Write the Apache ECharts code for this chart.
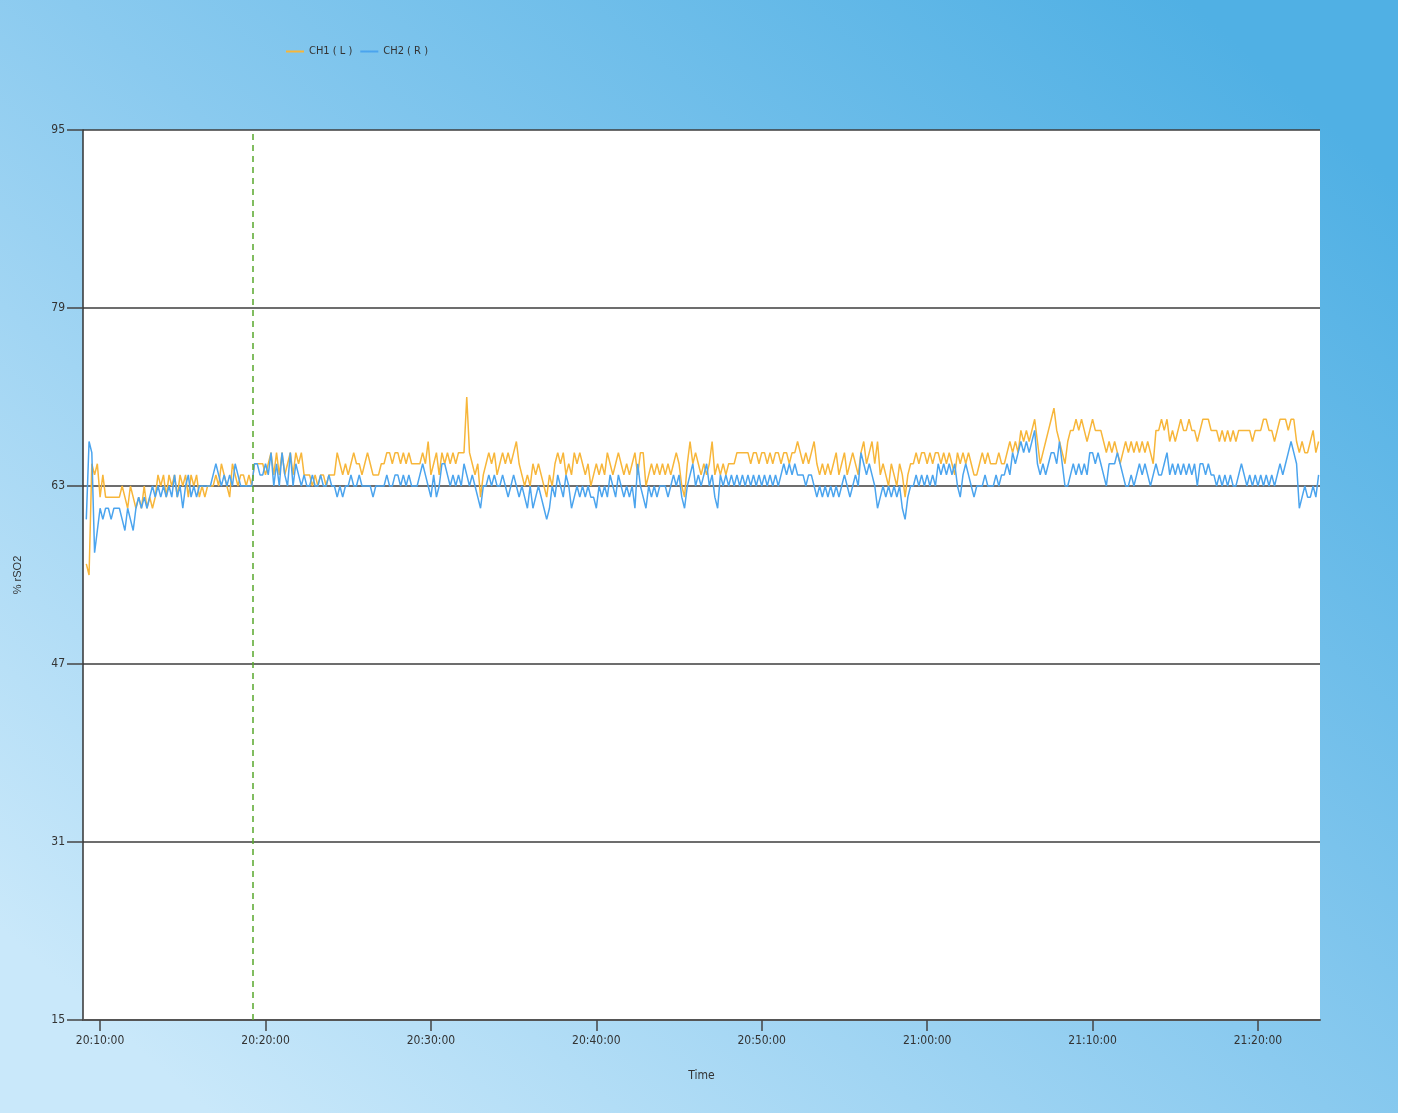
<!DOCTYPE html>
<html>
<head>
<meta charset="utf-8">
<title>rSO2</title>
<script src="https://cdn.jsdelivr.net/npm/echarts@6/dist/echarts.min.js"></script>
<style>
  html, body { margin: 0; padding: 0; background: #fff; }
  #chart { width: 1398px; height: 1113px; }
</style>
</head>
<body>
<div id="chart"></div>
<script>
// sampling: one reading every 10 s, first one at 20:09:10
const startTime = '20:09:10'
const stepSeconds = 10
const axisStart = '20:08:58'
const axisEnd = '21:23:45'
const eventTime = '20:19:15'
const xTickLabels = ['20:10:00', '20:20:00', '20:30:00', '20:40:00', '20:50:00', '21:00:00', '21:10:00', '21:20:00']
const legendNames = ['CH1 ( L )', 'CH2 ( R )']
const yTicks = [15, 31, 47, 63, 79, 95]

// CH1 (L), one row = 5 minutes
const ch1Values = [
  56, 55, 65, 64, 65, 62, 64, 62, 62, 62, 62, 62, 62, 63, 62, 61, 63, 62, 61, 62, 61, 63, 61, 62, 61, 62, 64, 63, 64, 62,
  64, 63, 64, 62, 64, 63, 64, 62, 64, 63, 64, 62, 63, 62, 63, 63, 63, 64, 63, 65, 64, 63, 62, 65, 64, 63, 64, 64, 63, 64,
  63, 65, 65, 65, 65, 64, 65, 66, 64, 66, 64, 66, 64, 65, 66, 64, 66, 65, 66, 64, 64, 64, 63, 64, 63, 64, 64, 63, 64, 64,
  64, 66, 65, 64, 65, 64, 65, 66, 65, 65, 64, 65, 66, 65, 64, 64, 64, 65, 65, 66, 66, 65, 66, 66, 65, 66, 65, 66, 65, 65,
  65, 65, 66, 65, 67, 64, 65, 66, 64, 66, 65, 66, 65, 66, 65, 66, 66, 66, 71, 66, 65, 64, 65, 62, 64, 65, 66, 65, 66, 64,
  65, 66, 65, 66, 65, 66, 67, 65, 64, 63, 64, 63, 65, 64, 65, 64, 63, 62, 64, 63, 65, 66, 65, 66, 64, 65, 64, 66, 65, 66,
  65, 64, 65, 63, 64, 65, 64, 65, 64, 66, 65, 64, 65, 66, 65, 64, 65, 64, 65, 66, 64, 66, 66, 63, 64, 65, 64, 65, 64, 65,
  64, 65, 64, 65, 66, 65, 63, 62, 65, 67, 65, 66, 65, 64, 65, 64, 65, 67, 64, 65, 64, 65, 64, 65, 65, 65, 66, 66, 66, 66,
  66, 65, 66, 66, 65, 66, 66, 65, 66, 65, 66, 66, 65, 66, 66, 65, 66, 66, 67, 66, 65, 66, 65, 66, 67, 65, 64, 65, 64, 65,
  64, 65, 66, 64, 65, 66, 64, 65, 66, 65, 64, 66, 67, 65, 66, 67, 65, 67, 64, 65, 64, 63, 65, 64, 63, 65, 64, 62, 64, 65,
  65, 66, 65, 66, 66, 65, 66, 65, 66, 66, 65, 66, 65, 66, 65, 64, 66, 65, 66, 65, 66, 65, 64, 64, 65, 66, 65, 66, 65, 65,
  65, 66, 65, 65, 66, 67, 66, 67, 66, 68, 67, 68, 67, 68, 69, 67, 65, 66, 67, 68, 69, 70, 68, 67, 66, 65, 67, 68, 68, 69,
  68, 69, 68, 67, 68, 69, 68, 68, 68, 67, 66, 67, 66, 67, 66, 65, 66, 67, 66, 67, 66, 67, 66, 67, 66, 67, 66, 65, 68, 68,
  69, 68, 69, 67, 68, 67, 68, 69, 68, 68, 69, 68, 68, 67, 68, 69, 69, 69, 68, 68, 68, 67, 68, 67, 68, 67, 68, 67, 68, 68,
  68, 68, 68, 67, 68, 68, 68, 69, 69, 68, 68, 67, 68, 69, 69, 69, 68, 69, 69, 67, 66, 67, 66, 66, 67, 68, 66, 67
]

// CH2 (R)
const ch2Values = [
  60, 67, 66, 57, 59, 61, 60, 61, 61, 60, 61, 61, 61, 60, 59, 61, 60, 59, 61, 62, 61, 62, 61, 62, 63, 62, 63, 62, 63, 62,
  63, 62, 64, 62, 63, 61, 63, 64, 62, 63, 62, 63, 63, 63, 63, 63, 64, 65, 64, 63, 64, 63, 64, 63, 65, 64, 63, 63, 63, 63,
  63, 65, 65, 64, 64, 65, 64, 66, 63, 65, 63, 66, 64, 63, 66, 63, 65, 64, 63, 64, 63, 63, 64, 63, 63, 64, 63, 63, 64, 63,
  63, 62, 63, 62, 63, 63, 64, 63, 63, 64, 63, 63, 63, 63, 62, 63, 63, 63, 63, 64, 63, 63, 64, 64, 63, 64, 63, 64, 63, 63,
  63, 64, 65, 64, 63, 62, 64, 62, 63, 65, 65, 64, 63, 64, 63, 64, 63, 65, 64, 63, 64, 63, 62, 61, 63, 63, 64, 63, 64, 63,
  63, 64, 63, 62, 63, 64, 63, 62, 63, 62, 61, 63, 61, 62, 63, 62, 61, 60, 61, 63, 62, 64, 63, 62, 64, 63, 61, 62, 63, 62,
  63, 62, 63, 62, 62, 61, 63, 62, 63, 62, 64, 63, 62, 64, 63, 62, 63, 62, 63, 61, 65, 63, 62, 61, 63, 62, 63, 62, 63, 63,
  63, 62, 63, 64, 63, 64, 62, 61, 63, 64, 65, 63, 64, 63, 64, 65, 63, 64, 62, 61, 64, 63, 64, 63, 64, 63, 64, 63, 64, 63,
  64, 63, 64, 63, 64, 63, 64, 63, 64, 63, 64, 63, 64, 65, 64, 65, 64, 65, 64, 64, 64, 63, 64, 64, 63, 62, 63, 62, 63, 62,
  63, 62, 63, 62, 63, 64, 63, 62, 63, 64, 63, 66, 65, 64, 65, 64, 63, 61, 62, 63, 62, 63, 62, 63, 62, 63, 61, 60, 62, 63,
  63, 64, 63, 64, 63, 64, 63, 64, 63, 65, 64, 65, 64, 65, 64, 65, 63, 62, 64, 65, 64, 63, 62, 63, 63, 63, 64, 63, 63, 63,
  64, 63, 64, 64, 65, 64, 66, 65, 66, 67, 66, 67, 66, 67, 68, 65, 64, 65, 64, 65, 66, 66, 65, 67, 65, 63, 63, 64, 65, 64,
  65, 64, 65, 64, 66, 66, 65, 66, 65, 64, 63, 65, 65, 65, 66, 65, 64, 63, 63, 64, 63, 64, 65, 64, 65, 64, 63, 64, 65, 64,
  64, 65, 66, 64, 65, 64, 65, 64, 65, 64, 65, 64, 65, 63, 65, 65, 64, 65, 64, 64, 63, 64, 63, 64, 63, 64, 63, 63, 64, 65,
  64, 63, 64, 63, 64, 63, 64, 63, 64, 63, 64, 63, 64, 65, 64, 65, 66, 67, 66, 65, 61, 62, 63, 62, 62, 63, 62, 64
]

function toTime(hms) {
  return new Date('2024-01-01T' + hms).getTime()
}

function toPairs(values) {
  const t0 = toTime(startTime)
  return values.map((v, i) => [t0 + i * stepSeconds * 1000, v])
}

const condensed = '"DejaVu Sans Condensed", "Liberation Sans Narrow", sans-serif'
const xTicks = xTickLabels.map(toTime)
const chart = echarts.init(document.getElementById('chart'))

chart.setOption({
  animation: false,
  backgroundColor: {
    type: 'linear', x: 0.15, y: 1, x2: 0.85, y2: 0,
    colorStops: [
      { offset: 0, color: '#c9e8fa' },
      { offset: 0.5, color: '#8acaef' },
      { offset: 1, color: '#50b0e4' }
    ]
  },
  grid: {
    left: 83, right: 78, top: 130, bottom: 93,
    show: true, backgroundColor: '#fff', borderWidth: 0
  },
  legend: {
    left: 281, top: 41,
    icon: 'rect', itemWidth: 18, itemHeight: 2, itemGap: 8,
    textStyle: { fontFamily: condensed, fontSize: 11, color: '#333' },
    data: legendNames
  },
  xAxis: {
    type: 'time',
    min: toTime(axisStart),
    max: toTime(axisEnd),
    name: 'Time',
    nameLocation: 'middle',
    nameGap: 50,
    nameTextStyle: { fontFamily: condensed, fontSize: 12, color: '#333' },
    axisLine: { lineStyle: { color: '#555', width: 2 } },
    axisTick: { show: true, length: 11, customValues: xTicks, lineStyle: { color: '#444', width: 1.5 } },
    axisLabel: {
      customValues: xTicks,
      formatter: '{HH}:{mm}:{ss}',
      margin: 15,
      fontFamily: condensed, fontSize: 12, color: '#333'
    },
    splitLine: { show: false }
  },
  yAxis: {
    type: 'value',
    min: yTicks[0],
    max: yTicks[yTicks.length - 1],
    interval: yTicks[1] - yTicks[0],
    name: '% rSO2',
    nameLocation: 'middle',
    nameGap: 60,
    nameTextStyle: { fontFamily: '"Liberation Sans", Arial, sans-serif', fontSize: 11, color: '#333' },
    axisLine: { show: true, lineStyle: { color: '#333', width: 1.5 } },
    axisTick: { show: true, length: 16, lineStyle: { color: '#444', width: 1.5 } },
    axisLabel: { margin: 18, fontFamily: condensed, fontSize: 12, color: '#333' },
    splitLine: { lineStyle: { color: '#3c3c3c', width: 1.5 } }
  },
  series: [
    {
      name: legendNames[0],
      type: 'line',
      showSymbol: false,
      color: '#f7b63a',
      lineStyle: { width: 1.5 },
      data: toPairs(ch1Values),
      markLine: {
        silent: true,
        symbol: 'none',
        label: { show: false },
        lineStyle: { color: '#58a82c', type: [6, 5], width: 1.5 },
        data: [{ xAxis: toTime(eventTime) }]
      }
    },
    {
      name: legendNames[1],
      type: 'line',
      showSymbol: false,
      color: '#4ba4ee',
      lineStyle: { width: 1.5 },
      data: toPairs(ch2Values)
    }
  ]
})
</script>
</body>
</html>
